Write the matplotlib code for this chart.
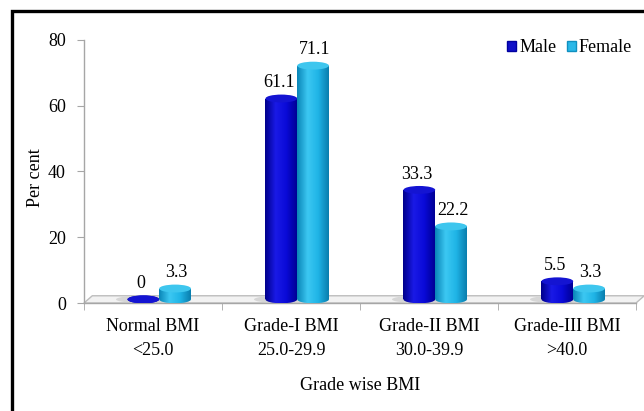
import numpy as np
import matplotlib
matplotlib.use('Agg')
import matplotlib.pyplot as plt
from matplotlib.patches import Rectangle, Ellipse, Polygon, Patch
from matplotlib.colors import LinearSegmentedColormap

plt.rcParams['font.family'] = ['Liberation Serif', 'DejaVu Serif']
plt.rcParams['font.size'] = 13

categories = ['Normal BMI\n<25.0', 'Grade-I BMI\n25.0-29.9',
              'Grade-II BMI\n30.0-39.9', 'Grade-III BMI\n>40.0']
male = [0, 61.1, 33.3, 5.5]
female = [3.3, 71.1, 22.2, 3.3]
male_labels = ['0', '61.1', '33.3', '5.5']
female_labels = ['3.3', '71.1', '22.2', '3.3']
yticks = [0, 20, 40, 60, 80]

# cylinder look: (edge, highlight, edge, top colour)
male_cmap = LinearSegmentedColormap.from_list(
    'm', ['#00008C', '#1A1AE6', '#0A0AD8', '#000096'])
female_cmap = LinearSegmentedColormap.from_list(
    'f', ['#0A86B8', '#3CC8F2', '#1FB4E6', '#0A7EAE'])
male_top = '#1414D2'
female_top = '#3EC6EE'

W, H = 644, 411
fig = plt.figure(figsize=(W / 100, H / 100), dpi=100)
ax = fig.add_axes([84 / W, 1 - 303 / H, (636 - 84) / W, (303 - 40) / H])

ax.set_xlim(-0.5, len(categories) - 0.5)
ax.set_ylim(0, 80)

base = 1.1      # bars stand on the middle of the floor
eh = 2.4        # ellipse height (data units)
bw = 0.23
grad = np.linspace(0, 1, 64).reshape(1, -1)

# floor
fl = Polygon([(-0.5, 0), (len(categories) - 0.5, 0),
              (len(categories) - 0.5 + 0.06, 2.2), (-0.5 + 0.06, 2.2)],
             closed=True, facecolor='#F2F2F2', edgecolor='#BDBDBD',
             lw=1.0, clip_on=False, zorder=1)
ax.add_patch(fl)


def cylinder(xc, v, cmap, topc, z):
    x0, x1 = xc - bw / 2, xc + bw / 2
    top = base + v
    # shadow
    sh = Ellipse((xc - 0.06, base), bw * 1.2, eh * 0.8,
                 facecolor='#D6D6D6', edgecolor='none', zorder=z - 0.5)
    ax.add_patch(sh)
    if v > 0:
        r = Rectangle((x0, base), bw, v, facecolor='none', edgecolor='none')
        ax.add_patch(r)
        im = ax.imshow(grad, extent=[x0, x1, base, top], aspect='auto',
                       cmap=cmap, zorder=z, interpolation='bilinear')
        im.set_clip_path(r)
    e = Ellipse((xc, base), bw, eh, facecolor='none', edgecolor='none')
    ax.add_patch(e)
    im2 = ax.imshow(grad, extent=[x0, x1, base - eh / 2, base + eh / 2],
                    aspect='auto', cmap=cmap, zorder=z, interpolation='bilinear')
    im2.set_clip_path(e)
    et = Ellipse((xc, top), bw, eh, facecolor=topc, edgecolor='none',
                 zorder=z + 0.1)
    ax.add_patch(et)
    return top + eh / 2


x = np.arange(len(categories))
for i in x:
    tm = cylinder(i - 0.07, male[i], male_cmap, male_top, 3 + i)
    tf = cylinder(i + 0.16, female[i], female_cmap, female_top, 3.3 + i)
    ax.text(i - 0.085, tm + 1.0, male_labels[i], ha='center', va='bottom',
            zorder=10)
    ax.text(i + 0.17, tf + 1.0, female_labels[i], ha='center', va='bottom',
            zorder=10)

ax.set_xlim(-0.5, len(categories) - 0.5)
ax.set_ylim(0, 80)

for s in ['top', 'right']:
    ax.spines[s].set_visible(False)
for s in ['left', 'bottom']:
    ax.spines[s].set_color('#A6A6A6')
    ax.spines[s].set_linewidth(1.0)

ax.set_yticks(yticks)
ax.tick_params(axis='y', length=5, color='#A6A6A6', pad=8)
ax.set_xticks(x)
ax.set_xticklabels(categories, linespacing=1.5)
ax.set_xticks(np.arange(len(categories) + 1) - 0.5, minor=True)
ax.tick_params(axis='x', which='major', length=0, pad=11)
ax.tick_params(axis='x', which='minor', length=5, color='#A6A6A6')

ax.set_ylabel('Per cent')
ax.yaxis.set_label_coords(-0.072, 0.475)
ax.set_xlabel('Grade wise BMI', labelpad=13)

handles = [Patch(facecolor='#1010C8', edgecolor='#0000A0', label='Male'),
           Patch(facecolor='#2AB8E8', edgecolor='#1090C0', label='Female')]
fig.legend(handles=handles, loc='center right', ncol=2, frameon=False,
           bbox_to_anchor=(641 / W, 1 - 48 / H), borderpad=0,
           handlelength=0.5, handleheight=0.5, handletextpad=0.15,
           columnspacing=0.6)

# outer frame
fig.patches.append(Rectangle((12 / W, -0.1), 1.2, (H - 11) / H + 0.1,
                             transform=fig.transFigure, fill=False,
                             edgecolor='black', lw=2.4))

fig.savefig('out.png', dpi=100)
